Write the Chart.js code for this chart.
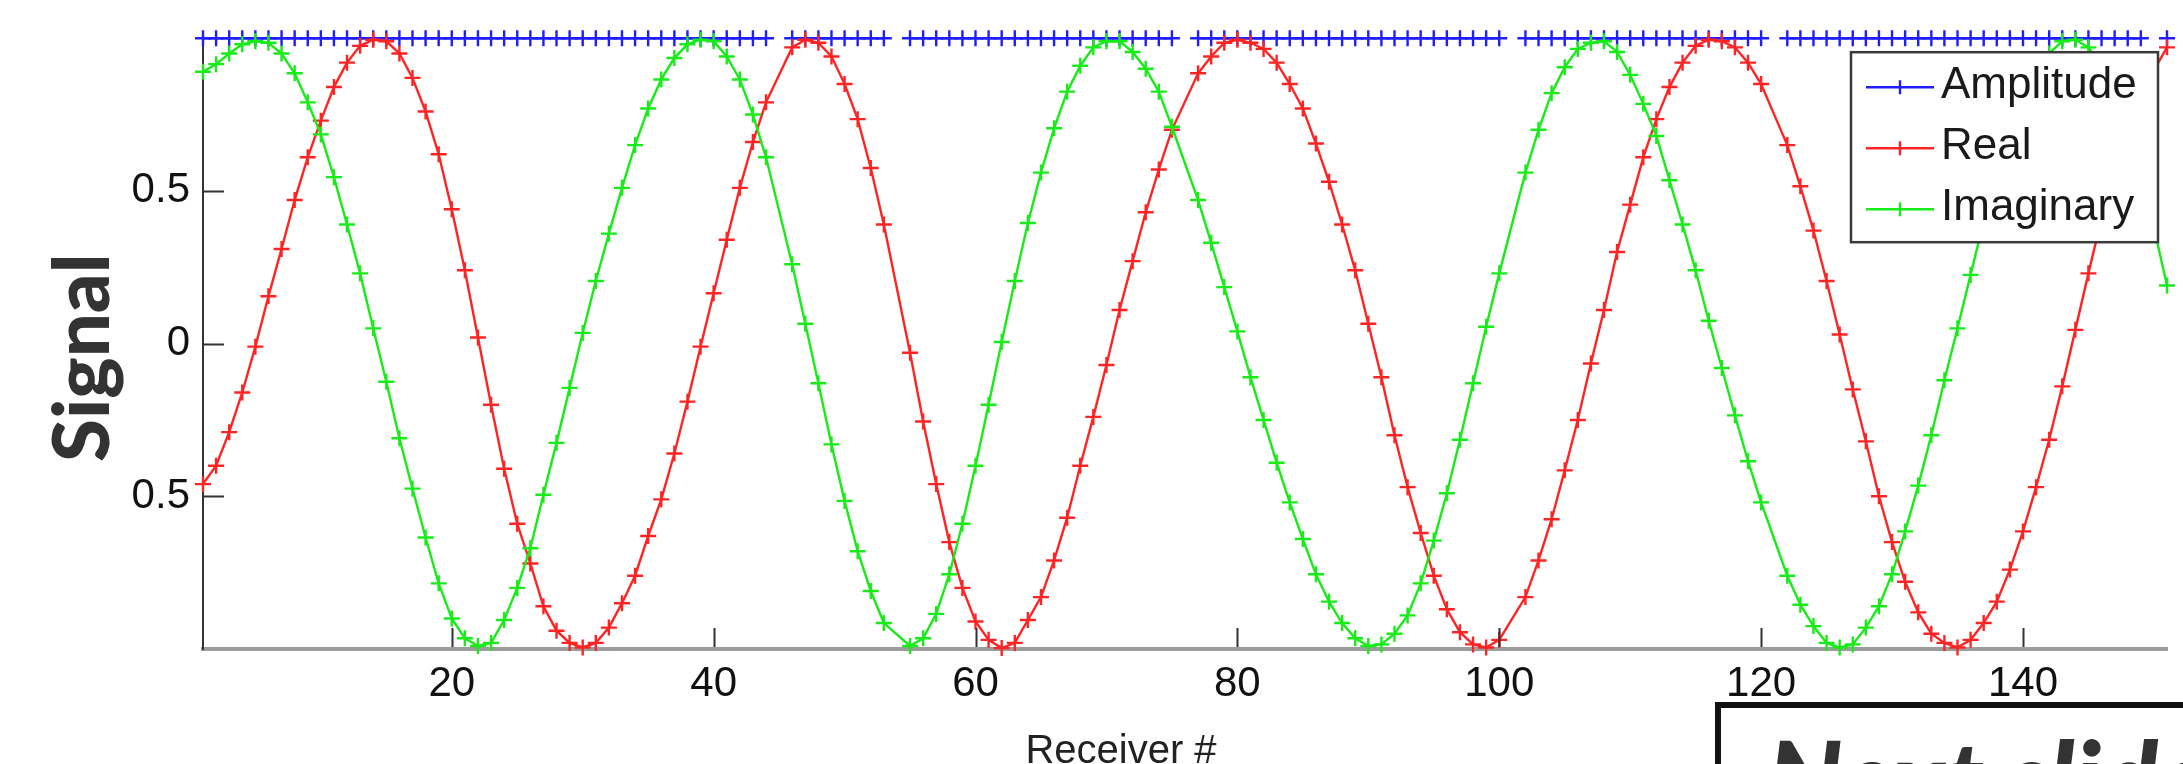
<!DOCTYPE html>
<html>
<head>
<meta charset="utf-8">
<title>Signal vs receiver</title>
<script src="https://cdn.jsdelivr.net/npm/chart.js@4.4.1/dist/chart.umd.min.js"></script>
<style>
  html, body { margin:0; padding:0; background:#fff; overflow:hidden; }
  #wrap { position:relative; width:2183px; height:764px; }
  #ylab { position:absolute; left:40px; top:462px; transform-origin:0 0; transform:rotate(-90deg);
          font-family:Lato, 'Open Sans', sans-serif; font-weight:900; font-size:78px; line-height:78px;
          color:#333; white-space:nowrap; }
  #xlab { position:absolute; left:821px; top:729px; width:600px; text-align:center;
          font-family:'Liberation Sans', Arial, sans-serif; font-size:40px; line-height:40px; color:#222; }
  #next { position:absolute; left:1715px; top:702px; width:600px; height:200px;
          border:6px solid #111; background:#fff; box-sizing:border-box; }
  #next span { position:absolute; left:46px; top:16px; white-space:nowrap;
          font-family:Lato, 'Open Sans', sans-serif; font-weight:900; font-style:italic;
          font-size:105px; line-height:105px; color:#333; }
</style>
</head>
<body>
<div id="wrap">
  <canvas id="chart"></canvas>
  <div id="ylab">Signal</div>
  <div id="xlab">Receiver #</div>
  <div id="next"><span>Next slide</span></div>
</div>
<script>
// receivers that were recorded (45, 54, 76, 101, 121 and 150 are absent)
const receivers = [
  1,2,3,4,5,6,7,8,9,10,11,12,13,14,15,16,17,18,19,20,21,22,23,24,25,26,27,28,29,30,
  31,32,33,34,35,36,37,38,39,40,41,42,43,44,46,47,48,49,50,51,52,53,55,56,57,58,59,60,
  61,62,63,64,65,66,67,68,69,70,71,72,73,74,75,77,78,79,80,81,82,83,84,85,86,87,88,89,90,
  91,92,93,94,95,96,97,98,99,100,102,103,104,105,106,107,108,109,110,
  111,112,113,114,115,116,117,118,119,120,122,123,124,125,126,127,128,129,130,
  131,132,133,134,135,136,137,138,139,140,141,142,143,144,145,146,147,148,149,151
];
const gapReceivers = [45, 54, 76, 101, 121, 150];

const amplitude = [
  1,1,1,1,1,1,1,1,1,1,1,1,1,1,1,1,1,1,1,1,1,1,1,1,1,1,1,1,1,
  1,1,1,1,1,1,1,1,1,1,1,1,1,1,1,1,1,1,1,1,1,1,1,1,1,1,1,1,1,
  1,1,1,1,1,1,1,1,1,1,1,1,1,1,1,1,1,1,1,1,1,1,1,1,1,1,1,1,1,
  1,1,1,1,1,1,1,1,1,1,1,1,1,1,1,1,1,1,1,1,1,1,1,1,1,1,1,1,1,
  1,1,1,1,1,1,1,1,1,1,1,1,1,1,1,1,1,1,1,1,1,1,1,1,1,1,1,1,1
];
const realPart = [
  -0.46,-0.40,-0.29,-0.16,-0.01,0.155,0.31,0.47,0.61,0.73,
  0.84,0.92,0.975,0.995,0.99,0.95,0.87,0.76,0.62,0.44,
  0.24,0.02,-0.20,-0.41,-0.59,-0.72,-0.86,-0.94,-0.98,-0.995,
  -0.98,-0.93,-0.85,-0.76,-0.63,-0.51,-0.36,-0.19,-0.01,0.165,
  0.34,0.51,0.66,0.79,
  0.97,0.995,0.985,0.94,0.85,0.735,0.575,0.39,
  -0.03,-0.255,-0.46,-0.65,-0.80,-0.91,
  -0.97,-0.997,-0.98,-0.905,-0.83,-0.71,-0.57,-0.40,-0.24,-0.07,
  0.11,0.27,0.43,0.57,0.70,
  0.885,0.94,0.985,0.995,
  0.985,0.965,0.92,0.85,0.77,0.655,0.53,0.39,0.24,0.065,
  -0.11,-0.30,-0.47,-0.62,-0.76,-0.87,-0.945,-0.985,-0.995,-0.97,
  -0.83,-0.71,-0.575,-0.415,-0.25,-0.065,0.11,0.30,0.455,
  0.61,0.735,0.84,0.92,0.975,0.995,0.99,0.97,0.92,0.85,
  0.65,0.515,0.37,0.205,0.03,-0.15,-0.32,-0.50,-0.65,
  -0.78,-0.88,-0.95,-0.98,-0.995,-0.97,-0.915,-0.845,-0.74,-0.615,
  -0.47,-0.315,-0.14,0.045,0.23,0.41,0.57,0.71,0.82,
  0.97
];
const imagPart = [
  0.89,0.915,0.95,0.98,0.99,0.985,0.95,0.885,0.79,0.685,
  0.545,0.39,0.23,0.05,-0.125,-0.31,-0.475,-0.635,-0.785,-0.90,
  -0.965,-0.99,-0.98,-0.905,-0.80,-0.67,-0.495,-0.325,-0.145,0.035,
  0.205,0.36,0.51,0.65,0.77,0.865,0.935,0.98,0.995,0.99,
  0.94,0.865,0.75,0.61,
  0.26,0.065,-0.13,-0.33,-0.515,-0.68,-0.81,-0.915,
  -0.99,-0.965,-0.885,-0.755,-0.59,-0.40,
  -0.20,0.005,0.205,0.395,0.56,0.705,0.825,0.91,0.97,0.99,
  0.99,0.955,0.90,0.825,0.71,
  0.47,0.33,0.185,0.04,
  -0.11,-0.25,-0.39,-0.52,-0.64,-0.755,-0.845,-0.915,-0.965,-0.99,
  -0.985,-0.95,-0.89,-0.785,-0.645,-0.49,-0.315,-0.13,0.055,0.23,
  0.56,0.70,0.82,0.905,0.965,0.985,0.99,0.955,0.88,
  0.785,0.68,0.535,0.39,0.24,0.075,-0.08,-0.235,-0.385,-0.52,
  -0.76,-0.855,-0.925,-0.98,-0.995,-0.985,-0.93,-0.86,-0.755,
  -0.615,-0.465,-0.30,-0.12,0.05,0.225,0.40,0.53,0.67,0.79,
  0.88,0.95,0.99,0.995,0.97,0.91,0.82,0.70,0.57,
  0.19
];

const seriesNames = ['Amplitude', 'Real', 'Imaginary'];
const seriesColors = ['#1e1eff', '#ff2424', '#18ec18'];
const xTicks = [20, 40, 60, 80, 100, 120, 140];
const yTicks = [-0.5, 0, 0.5];
const yTickLabels = ['0.5', '0', '0.5'];

const FONT = "'Liberation Sans', Arial, sans-serif";

// amplitude line breaks where a receiver is missing
const ampPoints = receivers.map((r, i) => ({ x: r, y: amplitude[i] }))
  .concat(gapReceivers.map(r => ({ x: r, y: null })))
  .sort((a, b) => a.x - b.x);
const pts = vals => receivers.map((r, i) => ({ x: r, y: vals[i] }));

function ds(label, data, color, order){
  return {
    label, data, order,
    borderColor: color, backgroundColor: color,
    borderWidth: 2.4, tension: 0, spanGaps: false, clip: false,
    pointStyle: 'cross', pointRadius: 8, pointBorderWidth: 2.4,
    pointBorderColor: color, pointHoverRadius: 8
  };
}

// inward tick marks, matlab style
const inwardTicks = {
  id: 'inwardTicks',
  afterDatasetsDraw(chart){
    const { ctx, chartArea: a, scales: { x, y } } = chart;
    ctx.save();
    ctx.strokeStyle = '#333'; ctx.lineWidth = 2;
    ctx.beginPath();
    xTicks.forEach(v => { const px = Math.round(x.getPixelForValue(v)) + 0.5; ctx.moveTo(px, a.bottom - 2); ctx.lineTo(px, a.bottom - 21); });
    yTicks.forEach(v => { const py = Math.round(y.getPixelForValue(v)) + 0.5; ctx.moveTo(a.left, py); ctx.lineTo(a.left + 21, py); });
    ctx.stroke();
    ctx.restore();
  }
};

// boxed legend in the top right corner of the axes
const boxLegend = {
  id: 'boxLegend',
  afterDraw(chart){
    const { ctx, chartArea: a } = chart;
    const w = 307, h = 190;
    const x0 = a.right - 9 - w, y0 = a.top + 14;
    ctx.save();
    ctx.fillStyle = '#fff';
    ctx.fillRect(x0, y0, w, h);
    ctx.strokeStyle = '#3a3a3a'; ctx.lineWidth = 2.5;
    ctx.strokeRect(x0, y0, w, h);
    seriesNames.forEach((name, k) => {
      const yy = y0 + 35 + k * 61;
      const c = seriesColors[k];
      ctx.strokeStyle = c; ctx.lineWidth = 2.4;
      ctx.beginPath();
      ctx.moveTo(x0 + 15, yy); ctx.lineTo(x0 + 83, yy);
      ctx.moveTo(x0 + 49, yy - 7); ctx.lineTo(x0 + 49, yy + 7);
      ctx.stroke();
      ctx.fillStyle = '#1a1a1a';
      ctx.font = '44px ' + FONT;
      ctx.textBaseline = 'middle'; ctx.textAlign = 'left';
      ctx.fillText(name, x0 + 90, yy - 1);
    });
    ctx.restore();
  }
};

new Chart(document.getElementById('chart'), {
  type: 'line',
  data: {
    datasets: [
      ds(seriesNames[0], ampPoints, seriesColors[0], 3),
      ds(seriesNames[1], pts(realPart), seriesColors[1], 2),
      ds(seriesNames[2], pts(imagPart), seriesColors[2], 1)
    ]
  },
  options: {
    animation: false,
    responsive: true, maintainAspectRatio: false,
    events: [],
    layout: { padding: { top: 25, right: 16, bottom: 0, left: 0 } },
    plugins: { legend: { display: false }, tooltip: { enabled: false } },
    scales: {
      x: {
        type: 'linear', min: 1, max: 151,
        afterBuildTicks: s => { s.ticks = xTicks.map(v => ({ value: v })); },
        afterFit: s => { s.height = 115; },
        grid: { display: false, drawTicks: false },
        border: { display: true, color: '#9c9c9c', width: 4 },
        ticks: { padding: 10, autoSkip: false, maxRotation: 0, color: '#111', font: { family: FONT, size: 42 } }
      },
      y: {
        type: 'linear', min: -1, max: 1,
        afterBuildTicks: s => { s.ticks = yTicks.map(v => ({ value: v })); },
        afterFit: s => { s.width = 203; },
        grid: { display: false, drawTicks: false },
        border: { display: true, color: '#333', width: 2 },
        ticks: { padding: 13, color: '#111', font: { family: FONT, size: 42 },
                 callback: (v, i) => yTickLabels[i] }
      }
    }
  },
  plugins: [inwardTicks, boxLegend]
});
</script>
</body>
</html>
